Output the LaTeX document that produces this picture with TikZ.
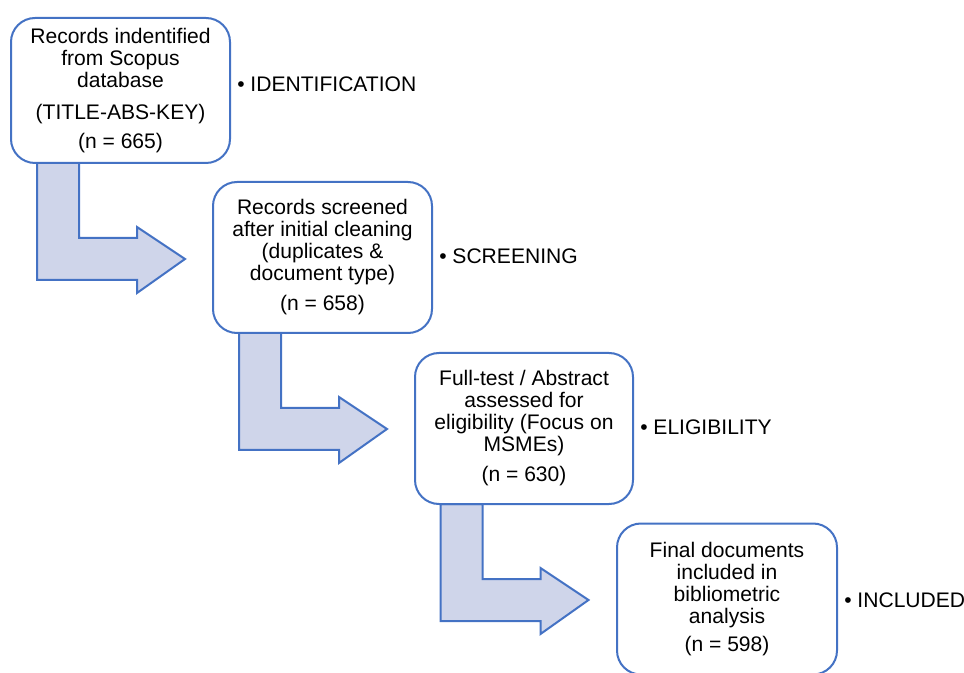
\documentclass[tikz,border=0pt]{standalone}
\usepackage{fontspec}
\setmainfont{Liberation Sans}
\usetikzlibrary{calc}
\definecolor{bordblue}{HTML}{4472C4}
\definecolor{arrfill}{HTML}{CFD5EA}
\tikzset{
  stepbox/.style={draw=bordblue, line width=1.5pt, fill=white, rounded corners=18pt,
    minimum width=164pt, minimum height=112pt, inner sep=0pt, align=center,
    font=\fontsize{15.8}{16.5}\selectfont},
  bentarrow/.style={draw=bordblue, line width=1.5pt, fill=arrfill, line join=miter},
  phase/.style={anchor=west, inner sep=0pt, font=\fontsize{15.8}{16.5}\selectfont}
}
\begin{document}
\begin{tikzpicture}[x=0.75pt,y=-0.75pt]
\useasboundingbox (0,0) rectangle (964,673);
\path (120.5,90.5) coordinate (c1) (322.5,257.5) coordinate (c2)
      (524,428.5) coordinate (c3) (727,599) coordinate (c4);
% arrows (drawn before boxes so boxes cover their top ends)
\foreach \c/\h in {c1/145,c2/151,c3/151}{
  \draw[bentarrow] ($(\c)+(-83.5,0.5*\h)$) -- ++(42,0) -- ++(0,75) -- ++(58,0)
     -- ++(0,-11) -- ++(48,32) -- ++(-48,34) -- ++(0,-13) -- ++(-100,0) -- cycle;
}
\node[stepbox, minimum width=164.25pt, minimum height=108.75pt] (b1) at (c1)
  {Records indentified\\from Scopus\\database\\[8pt](TITLE-ABS-KEY)\\[5pt](n = 665)};
\node[stepbox, minimum width=164.25pt, minimum height=113.25pt] (b2) at (c2)
  {Records screened\\after initial cleaning\\(duplicates \&\\document type)\\[6pt](n = 658)};
\node[stepbox, minimum width=163.5pt, minimum height=113.25pt] (b3) at (c3)
  {Full-test / Abstract\\assessed for\\eligibility (Focus on\\MSMEs)\\[6pt](n = 630)};
\node[stepbox, minimum width=165pt, minimum height=113.25pt] (b4) at (c4)
  {Final documents\\included in\\bibliometric\\analysis\\[5pt](n = 598)};
\node[phase] (l1) at ($(b1.east)+(6,-6.5)$) {• IDENTIFICATION};
\node[phase] (l2) at ($(b2.east)+(6,-1.5)$) {• SCREENING};
\node[phase] (l3) at ($(b3.east)+(6,-1.5)$) {• ELIGIBILITY};
\node[phase] (l4) at ($(b4.east)+(6,1.5)$) {• INCLUDED};
\end{tikzpicture}
\end{document}
